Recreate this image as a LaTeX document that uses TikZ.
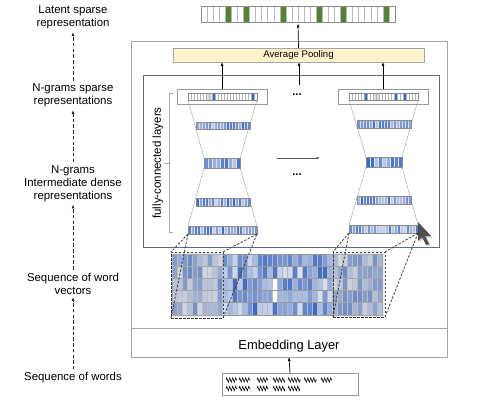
\documentclass[tikz,border=0pt]{standalone}
\usepackage{fontspec}
\setmainfont{Liberation Sans}
\usetikzlibrary{arrows.meta,decorations.pathmorphing}
\definecolor{cellblue}{RGB}{58,104,196}
\definecolor{framegray}{RGB}{165,165,165}
\definecolor{bargray}{RGB}{140,140,140}
\definecolor{innerframe}{RGB}{95,105,135}
\definecolor{poolfill}{RGB}{255,242,204}
\definecolor{latentgreen}{RGB}{84,130,53}
\definecolor{cursorgray}{RGB}{80,80,80}
\tikzset{
  barframe/.style={draw=bargray, line width=0.6},
  cellsep/.style={draw=white!75!gray, line width=0.3},
  sparsesep/.style={draw=gray!60, line width=0.3},
  matvgrid/.style={draw=gray!55, line width=0.4},
  mathgrid/.style={draw=gray!80, line width=0.8},
  boxnode/.style={anchor=north west, inner sep=0, outer sep=0},
  lbl/.style={align=center, font=\fontsize{11.4}{13}\selectfont, inner sep=1pt},
  dasharrow/.style={black!85, line width=0.6, dash pattern=on 3.5pt off 2.2pt, -{Latex[length=3.5pt,width=3pt]}, shorten >=2pt, shorten <=2pt},
  solidarrow/.style={black, line width=0.7, -{Latex[length=4pt,width=3pt]}},
  funnel/.style={gray!75, line width=0.4},
  projline/.style={black!75, line width=0.8, dash pattern=on 2.5pt off 1.5pt},
  windowbox/.style={boxnode, fill=gray!45, fill opacity=0.35, draw=black!75, draw opacity=1, line width=0.9, dash pattern=on 2.5pt off 1.5pt},
  scribble/.style={black, line width=0.6, decorate, decoration={zigzag, segment length=3, amplitude=2.2}}
}
\newcommand\mycellbar[6]{%
  \foreach \myci in {1,...,#3}{%
    \pgfmathrandominteger{\mycmix}{#6}{100}%
    \pgfmathsetmacro\mycx{#1+(\myci-1)*#4}%
    \fill[cellblue!\mycmix!white] (\mycx,#2) rectangle ++(#4,#5);
    \draw[cellsep] (\mycx,#2) -- ++(0,#5);
  }%
  \draw[barframe] (#1,#2) rectangle ++(#3*#4,#5);
}
\newcommand\mysparsebar[7]{% x0,y0,n,cw,h,blue list,gray list
  \fill[white] (#1,#2) rectangle ++(#3*#4,#5);
  \foreach \myci in {#7}{\fill[gray!25] (#1+\myci*#4,#2) rectangle ++(#4,#5);}
  \foreach \myci in {#6}{\fill[cellblue] (#1+\myci*#4,#2) rectangle ++(#4,#5);}
  \foreach \myci in {1,...,#3}{\draw[sparsesep] (#1+\myci*#4,#2) -- ++(0,#5);}
  \draw[barframe] (#1,#2) rectangle ++(#3*#4,#5);
}
\begin{document}
\begin{tikzpicture}[x=1pt,y=-1pt]
\pgfmathsetseed{11}
\useasboundingbox (0,0) rectangle (481,406);

% ---------- left labels ----------
\node[lbl] (l1) at (73,17.5) {Latent sparse\\representation};
\node[lbl] (l2) at (73,95.5) {N-grams sparse\\representations};
\node[lbl] (l3) at (73,183.5) {N-grams\\Intermediate dense\\representations};
\node[lbl] (l4) at (73,283.5) {Sequence of word\\vectors};
\node[lbl] (l5) at (73,378) {Sequence of words};
\draw[dasharrow] (l2) -- (l1);
\draw[dasharrow] (l3) -- (l2);
\draw[dasharrow] (l4) -- (l3);
\draw[dasharrow] (l5) -- (l4);

% ---------- frames ----------
\node[boxnode, draw=framegray, line width=0.8, minimum width=316, minimum height=287] (outer) at (131,41) {};
\node[boxnode, draw=framegray, line width=0.8, minimum width=316, minimum height=29] (emb) at (131,328) {};
\node at (289,346.5) [font=\fontsize{12.9}{15}\selectfont] (embtxt) {Embedding Layer};
\node[boxnode, draw=innerframe, line width=0.8, minimum width=296, minimum height=172] (inner) at (143,75) {};

% ---------- latent sparse bar ----------
\node[boxnode, minimum width=194, minimum height=16] (latent) at (201,6) {};
\fill[white] (201,6) rectangle ++(194,16);
\foreach \k in {4,7,13,19,23,30}{\fill[latentgreen] (201+\k*6.0625,6) rectangle ++(6.0625,16);}
\foreach \k in {1,...,31}{\draw[gray!55, line width=0.4] (201+\k*6.0625,6) -- ++(0,16);}
\draw[barframe] (201,6) rectangle ++(194,16);

% ---------- average pooling ----------
\node[boxnode, draw=framegray, line width=0.7, fill=poolfill, minimum width=251, minimum height=14, font=\fontsize{9.6}{11}\selectfont] (pool) at (173,48) {Average Pooling};
\draw[solidarrow] (pool.north) -- ([yshift=-1.5]latent.south);

% ---------- sparse boxes ----------
\node[boxnode, draw=gray!80, line width=0.7, fill=white, minimum width=90, minimum height=15] (sparseL) at (177,89) {};
\node[boxnode, draw=gray!80, line width=0.7, fill=white, minimum width=90, minimum height=15] (sparseR) at (338,89) {};

% funnel lines (left)
\draw[funnel] (188,100) -- (204,158) (257,100) -- (240,158);
\draw[funnel] (204,168) -- (188,226) (240,168) -- (257,226);
% funnel lines (right)
\draw[funnel] (349,100) -- (366,157) (418,100) -- (402,157);
\draw[funnel] (366,167) -- (349,225) (402,167) -- (418,225);

\mysparsebar{188}{93}{23}{3}{7}{8,21}{6,7}
\mysparsebar{349}{93}{23}{3}{7}{5,15,18}{8,9}

\mycellbar{196}{122}{18}{3}{7}{30}
\mycellbar{204}{158}{9}{4}{10}{30}
\mycellbar{196}{198}{18}{3}{8}{30}
\mycellbar{188}{226}{23}{3}{8}{30}

\mycellbar{357}{120}{18}{3}{8}{30}
\mycellbar{366}{157}{9}{4}{10}{30}
\mycellbar{357}{196}{18}{3}{8}{30}
\mycellbar{349}{225}{23}{3}{8}{30}

\coordinate (midbot) at (299,85);
\draw[solidarrow] (sparseL.north) -- (sparseL.north |- pool.south);
\draw[solidarrow] (midbot) -- (midbot |- pool.south);
\draw[solidarrow] (sparseR.north) -- (sparseR.north |- pool.south);

\node[font=\bfseries\fontsize{11}{12}\selectfont] (dots1) at (297,95) {...};
\node[font=\bfseries\fontsize{11}{12}\selectfont] (dots2) at (297,175) {...};

\coordinate (ha1) at (277,158);
\coordinate (ha2) at (320,158);
\draw[gray!70!black, line width=0.5, -{Latex[length=3.5pt,width=2.6pt]}] (ha1) -- (ha2);

% bracket
\draw[gray!70, line width=0.5] (173,93) -- (169,93) -- (169,232) -- (173,232) (169,163) -- (165,163);
\node[rotate=90, font=\fontsize{11.5}{13}\selectfont] (fcl) at (158,163) {fully-connected layers};

% cursor
\fill[gray!40] (419.5,223.5) -- (419.5,242.5) -- (423.5,238.5) -- (427.5,246.5) -- (430.5,245.5) -- (426.5,237.5) -- (432.5,237.5) -- cycle;
\fill[cursorgray] (418,222) -- (418,241) -- (422,237) -- (426,245) -- (429,244) -- (425,236) -- (431,236) -- cycle;

% ---------- word vector matrix ----------
\foreach \row in {0,...,4}{
  \foreach \col in {0,...,41}{
    \pgfmathrandominteger{\mycmix}{20}{100}
    \fill[cellblue!\mycmix!white] (172+\col*5,254+\row*12.2) rectangle ++(5,12.2);
  }
}
\fill[white] (272,278.4) rectangle ++(5,24.4);
\foreach \col in {1,...,41}{\draw[matvgrid] (172+\col*5,254) -- ++(0,61);}
\foreach \row in {1,...,4}{\draw[mathgrid] (172,254+\row*12.2) -- ++(210,0);}
\draw[mathgrid, line width=1] (172,254) rectangle ++(210,61);

% dashed windows
\node[windowbox, minimum width=52, minimum height=66] (dbl) at (171,252) {};
\node[windowbox, minimum width=52, minimum height=65] (dbr) at (333,252) {};

\coordinate (la) at (188,234);
\coordinate (lb) at (257,234);
\coordinate (ra) at (349,233);
\coordinate (rb) at (418,233);
\draw[projline] (la) -- (dbl.north west) (la) -- (dbl.south west);
\draw[projline] (lb) -- (dbl.north east) (lb) -- (dbl.south east);
\draw[projline] (ra) -- (dbr.north west) (ra) -- (dbr.south west);
\draw[projline] (rb) -- (dbr.north east) (rb) -- (dbr.south east);

% ---------- words ----------
\node[boxnode, draw=gray!80, line width=0.8, minimum width=136, minimum height=22] (words) at (222,373) {};
\draw[solidarrow] (words.north) -- (emb.south);
\foreach \a/\b in {226/237,239/250,257/268,273/285,288/301,304/317,321/332}{\draw[scribble] (\a,380) -- (\b,380);}
\foreach \a/\b in {226/237,239/250,257/268,273/285,288/300}{\draw[scribble] (\a,388.5) -- (\b,388.5);}
\end{tikzpicture}
\end{document}
